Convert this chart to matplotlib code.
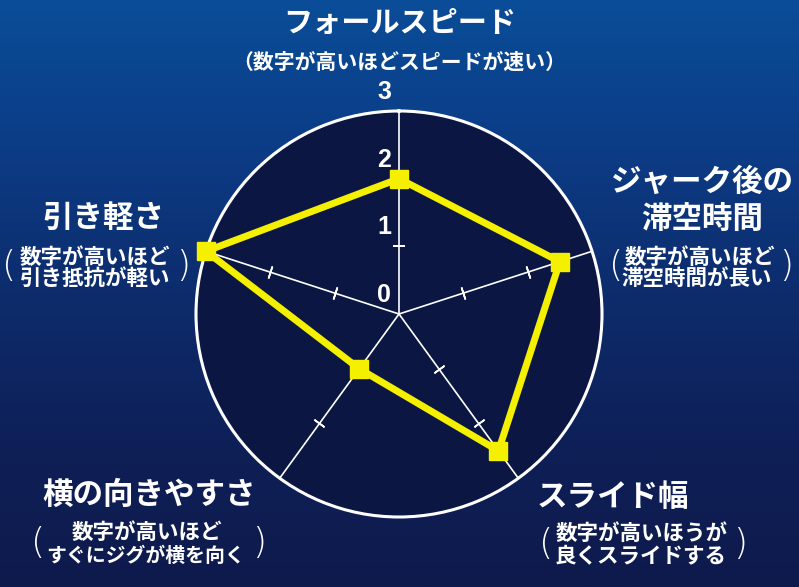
import numpy as np
import matplotlib
matplotlib.use("Agg")
import matplotlib.pyplot as plt
from matplotlib.colors import LinearSegmentedColormap

plt.rcParams['font.family'] = ['Noto Sans CJK JP', 'DejaVu Sans']

# ---- data ----
categories = ["フォールスピード", "ジャーク後の滞空時間", "スライド幅", "横の向きやすさ", "引き軽さ"]
values = [2.0, 2.5, 2.5, 1.0, 3.0]
r_ticks = [0, 1, 2, 3]
r_max = 3

W, H = 799, 587
fig = plt.figure(figsize=(W / 100, H / 100), dpi=100)

# background gradient
bg = fig.add_axes([0, 0, 1, 1])
bg.set_axis_off()
cmap = LinearSegmentedColormap.from_list(
    "bg", ["#0a4d98", "#0c3c86", "#0d2c6c", "#0e2058", "#0e1a4c"])
grad = np.linspace(0, 1, 256).reshape(-1, 1)
bg.imshow(grad, aspect="auto", cmap=cmap, extent=[0, 1, 0, 1], origin="upper")
bg.set_xlim(0, 1)
bg.set_ylim(0, 1)

# radar axes: center (399, 314) px, radius 203 px
cx, cy, R = 399, 314, 203
ax = fig.add_axes([(cx - R) / W, (H - cy - R) / H, 2 * R / W, 2 * R / H], projection="polar")
ax.set_theta_offset(np.pi / 2)
ax.set_theta_direction(-1)
ax.set_ylim(0, r_max)
ax.set_facecolor("#0b1742")
ax.grid(False)
ax.set_xticks([])
ax.set_yticks([])
ax.spines["polar"].set_color("white")
ax.spines["polar"].set_linewidth(2.2)

n = len(categories)
angles = np.arange(n) * 2 * np.pi / n

# spokes and tick marks
for a in angles:
    ax.plot([a, a], [0, r_max], color="white", lw=1.2, zorder=2)
    deg = np.degrees(a)
    ax.plot([a, a], [1, 2], linestyle="none",
            marker=(2, 2, 90 - deg), markersize=9, markeredgewidth=1.2,
            color="white", zorder=2)

# tick labels along top axis
for t in r_ticks:
    ax.annotate(str(t), xy=(0, t), xytext=(-15, 19), textcoords="offset pixels",
                ha="center", va="center", color="white", fontsize=18,
                fontweight="bold", family=["Liberation Sans Narrow", "Liberation Sans", "DejaVu Sans"],
                annotation_clip=False, zorder=3)

# data polygon
th = np.append(angles, angles[0])
vv = np.append(values, values[0])
ax.plot(th, vv, color="#f5f000", lw=5, zorder=4, solid_joinstyle="miter")
ax.plot(angles, values, linestyle="none", marker="s", markersize=13,
        color="#f5f000", zorder=5, clip_on=False)


def ftext(x, y, s, size, weight="bold", **kw):
    fig.text(x / W, 1 - y / H, s, fontsize=size, fontweight=weight, color="white",
             ha="center", va="center", **kw)


def paren(x, y, s):
    fig.text(x / W, 1 - y / H, s, fontsize=26, fontweight="light", color="white",
             ha="center", va="center", family=["DejaVu Sans"])


sub = 15.5
# top
ftext(400, 23, "フォールスピード", 21)
ftext(399, 62, "（数字が高いほどスピードが速い）", 15, weight="bold")

# right
ftext(702, 182, "ジャーク後の", 22)
ftext(702, 220, "滞空時間", 22)
ftext(700, 257, "数字が高いほど", sub)
ftext(697, 278, "滞空時間が長い", sub)
paren(616, 266, "(")
paren(786, 266, ")")

# left
ftext(103, 218, "引き軽さ", 22)
ftext(95, 257, "数字が高いほど", sub)
ftext(95, 278, "引き抵抗が軽い", sub)
paren(9, 266, "(")
paren(183, 266, ")")

# bottom left
ftext(149, 495, "横の向きやすさ", 22)
ftext(147, 532, "数字が高いほど", sub)
ftext(146, 555, "すぐにジグが横を向く", 14.3)
paren(38, 543, "(")
paren(259, 543, ")")

# bottom right
ftext(613, 497, "スライド幅", 22)
ftext(642, 533, "数字が高いほうが", sub)
ftext(641, 556, "良くスライドする", sub)
paren(546, 544, "(")
paren(740, 544, ")")

fig.savefig("out.png", dpi=100)
